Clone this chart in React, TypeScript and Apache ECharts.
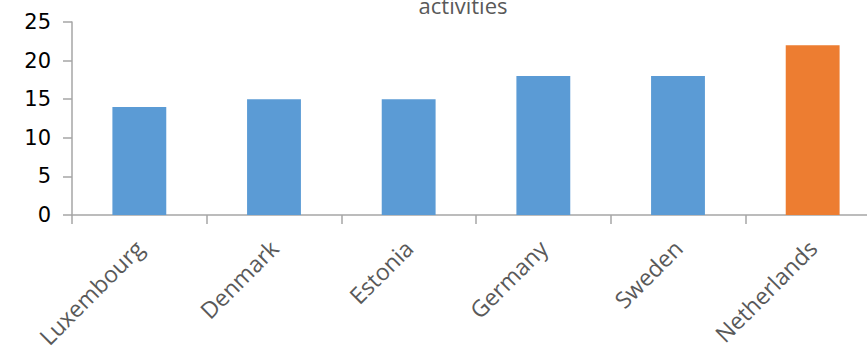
import React, { useEffect, useRef } from "react";
import * as echarts from "echarts";

const categories = ["Luxembourg", "Denmark", "Estonia", "Germany", "Sweden", "Netherlands"];
const values = [14, 15, 15, 18, 18, 22];
const highlightIndex = 5;
const yTicks = { min: 0, max: 25, interval: 5 };
const titleText = "activities";

export default function App() {
  const ref = useRef<HTMLDivElement>(null);
  useEffect(() => {
    if (!ref.current) return;
    const chart = echarts.init(ref.current, undefined, { renderer: "svg" });
    chart.setOption({
      animation: false,
      graphic: [
        {
          type: "text",
          x: 463,
          y: -6,
          style: {
            text: titleText,
            fill: "#595959",
            font: '22px "Open Sans"',
            textAlign: "center",
            textVerticalAlign: "top",
          },
        },
      ],
      grid: {
        left: 72,
        top: 22,
        width: 808,
        height: 193,
        containLabel: false,
        outerBoundsMode: "none",
      },
      xAxis: {
        type: "category",
        data: categories,
        axisLine: { show: true, lineStyle: { color: "#a6a6a6", width: 1.5 } },
        axisTick: { show: true, alignWithLabel: false, length: 9, lineStyle: { color: "#a6a6a6", width: 1.5 } },
        axisLabel: {
          rotate: 45,
          interval: 0,
          margin: 29,
          color: "#595959",
          fontFamily: "Open Sans",
          fontSize: 23,
        },
      },
      yAxis: {
        type: "value",
        min: yTicks.min,
        max: yTicks.max,
        interval: yTicks.interval,
        splitLine: { show: false },
        axisLine: { show: true, lineStyle: { color: "#a6a6a6", width: 1.5 } },
        axisTick: { show: true, length: 9, lineStyle: { color: "#a6a6a6", width: 1.5 } },
        axisLabel: {
          color: "#000000",
          fontFamily: "DejaVu Sans",
          fontSize: 21,
          margin: 21,
        },
      },
      series: [
        {
          type: "bar",
          barWidth: "40%",
          data: values.map((v, i) => ({
            value: v,
            itemStyle: { color: i === highlightIndex ? "#ED7D31" : "#5B9BD5" },
          })),
        },
      ],
    });
    return () => chart.dispose();
  }, []);
  return (
    <div
      ref={ref}
      style={{ position: "fixed", left: 0, top: 0, width: 867, height: 346, background: "#fff" }}
    />
  );
}
